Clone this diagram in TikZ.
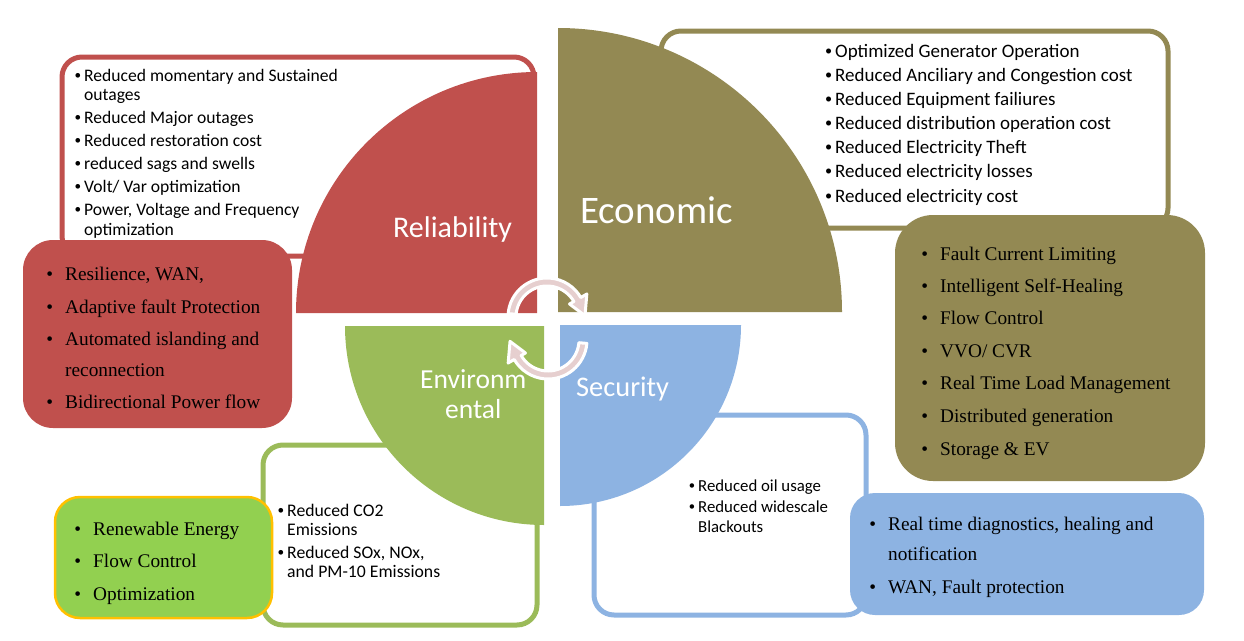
\documentclass[tikz,border=0pt]{standalone}
\usepackage{fontspec}
\usepackage{graphicx}
\setmainfont{Carlito}
\newfontfamily\gara{Liberation Serif}
\usetikzlibrary{calc}
\definecolor{relc}{HTML}{C0504D}
\definecolor{ecoc}{HTML}{938953}
\definecolor{envc}{HTML}{9BBB59}
\definecolor{secc}{HTML}{8DB3E2}
\definecolor{grnc}{HTML}{92D050}
\definecolor{ylwc}{HTML}{FFC000}
\definecolor{arwc}{RGB}{230,207,207}
\newcommand\wbul{\llap{\raisebox{0.15ex}{\scalebox{0.75}{\textbullet}}\hspace{3pt}}}
\newcommand\sbul{\llap{\textbullet\hspace{12pt}}}
\tikzset{
  wbox/.style={fill=white, line width=5pt, rounded corners=20pt},
  cbox/.style={rounded corners=#1},
  ln/.style={anchor=base west, inner sep=0pt, text=black},
  relt/.style={ln, font=\fontsize{17.6}{20}\selectfont},
  ecot/.style={ln, font=\fontsize{19}{22}\selectfont},
  envt/.style={ln, font=\fontsize{17.7}{20}\selectfont},
  sect/.style={ln, font=\fontsize{16.8}{20}\selectfont},
  sert/.style={ln, font=\gara\fontsize{19.3}{22}\selectfont},
  qlab/.style={anchor=base west, inner sep=0pt, text=white},
  arw/.style={fill=arwc, draw=white, line width=3pt, line join=round},
}
\begin{document}
\begin{tikzpicture}[x=1pt,y=-1pt]
\useasboundingbox (0,0) rectangle (1244,640);
% white text boxes
\draw[wbox, draw=relc] (62,57) rectangle (534,256);
\draw[wbox, draw=ecoc] (661,31) rectangle (1168,228);
\draw[wbox, draw=envc] (263,445) rectangle (537,625);
\draw[wbox, draw=secc] (594,415) rectangle (866,615);
% quadrants
\fill[relc] (537,313) -- (296,313) arc[start angle=180, end angle=270, radius=241] -- cycle;
\fill[ecoc] (558,312) -- (558,28) arc[start angle=270, end angle=360, radius=284] -- cycle;
\fill[envc] (544,326) -- (345,326) arc[start angle=180, end angle=90, radius=199] -- cycle;
\fill[secc] (560,325) -- (741,325) arc[start angle=0, end angle=90, radius=181] -- cycle;
% quadrant labels
\node[qlab, font=\fontsize{30}{30}\selectfont] (lrel) at (393,237) {Reliability};
\node[qlab, font=\fontsize{39}{39}\selectfont] (leco) at (580,223) {Economic};
\node[qlab, font=\fontsize{27.5}{28}\selectfont] (lenv1) at (420,388) {Environm};
\node[qlab, font=\fontsize{27.5}{28}\selectfont] (lenv2) at (445,418) {ental};
\node[qlab, font=\fontsize{28.4}{28}\selectfont] (lsec) at (576,396) {Security};
% coloured boxes
\fill[relc, cbox=30pt] (23,240) rectangle (292,428);
\fill[ecoc, cbox=38pt] (895,215) rectangle (1205,481);
\filldraw[fill=grnc, draw=ylwc, line width=2.5pt, cbox=25pt] (55,497) rectangle (272,618);
\fill[secc, cbox=25pt] (850,493) rectangle (1204,615);
% reliability text
\node[relt] (r1) at (84,81) {\wbul Reduced momentary and Sustained};
\node[relt] (r2) at (84,100) {outages};
\node[relt] (r3) at (84,123) {\wbul Reduced Major outages};
\node[relt] (r4) at (84,146) {\wbul Reduced restoration cost};
\node[relt] (r5) at (84,169) {\wbul reduced sags and swells};
\node[relt] (r6) at (84,192) {\wbul Volt/ Var optimization};
\node[relt] (r7) at (84,215) {\wbul Power, Voltage and Frequency};
\node[relt] (r8) at (84,235) {optimization};
% economic text
\node[ecot] (e1) at (835,57) {\wbul Optimized Generator Operation};
\node[ecot] (e2) at (835,81) {\wbul Reduced Anciliary and Congestion cost};
\node[ecot] (e3) at (835,105) {\wbul Reduced Equipment failiures};
\node[ecot] (e4) at (835,129) {\wbul Reduced distribution operation cost};
\node[ecot] (e5) at (835,153) {\wbul Reduced Electricity Theft};
\node[ecot] (e6) at (835,177) {\wbul Reduced electricity losses};
\node[ecot] (e7) at (835,202) {\wbul Reduced electricity cost};
% environmental text
\node[envt] (v1) at (287,516) {\wbul Reduced CO2};
\node[envt] (v2) at (287,535) {Emissions};
\node[envt] (v3) at (287,558) {\wbul Reduced SOx, NOx,};
\node[envt] (v4) at (287,577) {and PM-10 Emissions};
% security text
\node[sect] (s1) at (698,491) {\wbul Reduced oil usage};
\node[sect] (s2) at (698,512) {\wbul Reduced widescale};
\node[sect] (s3) at (698,532) {Blackouts};
% red box text
\node[sert] (a1) at (65,280) {\sbul Resilience, WAN,};
\node[sert] (a2) at (65,313) {\sbul Adaptive fault Protection};
\node[sert] (a3) at (65,345) {\sbul Automated islanding and};
\node[sert] (a4) at (65,376) {reconnection};
\node[sert] (a5) at (65,408) {\sbul Bidirectional Power flow};
% olive box text
\node[sert] (b1) at (940,260) {\sbul Fault Current Limiting};
\node[sert] (b2) at (940,292) {\sbul Intelligent Self-Healing};
\node[sert] (b3) at (940,324) {\sbul Flow Control};
\node[sert] (b4) at (940,357) {\sbul VVO/ CVR};
\node[sert] (b5) at (940,389) {\sbul Real Time Load Management};
\node[sert] (b6) at (940,422) {\sbul Distributed generation};
\node[sert] (b7) at (940,455) {\sbul Storage \& EV};
% green box text
\node[sert] (g1) at (93,535) {\sbul Renewable Energy};
\node[sert] (g2) at (93,567) {\sbul Flow Control};
\node[sert] (g3) at (93,600) {\sbul Optimization};
% blue box text
\node[sert] (u1) at (888,530) {\sbul Real time diagnostics, healing and};
\node[sert] (u2) at (888,560) {notification};
\node[sert] (u3) at (888,593) {\sbul WAN, Fault protection};
% centre circular arrows
\coordinate (c1) at (547,317);
\coordinate (c2) at (548,340);
\filldraw[arw] ($(c1)+(185:39)$) arc[start angle=185, end angle=330, radius=39]
  -- ($(c1)+(330:46)$) -- ($(c1)+(358:38)$) -- ($(c1)+(330:26)$) -- ($(c1)+(330:31)$)
  arc[start angle=330, end angle=185, radius=31] -- cycle;
\filldraw[arw] ($(c2)+(5:39)$) arc[start angle=5, end angle=150, radius=39]
  -- ($(c2)+(150:46)$) -- ($(c2)+(178:38)$) -- ($(c2)+(150:26)$) -- ($(c2)+(150:31)$)
  arc[start angle=150, end angle=5, radius=31] -- cycle;
\end{tikzpicture}
\end{document}
